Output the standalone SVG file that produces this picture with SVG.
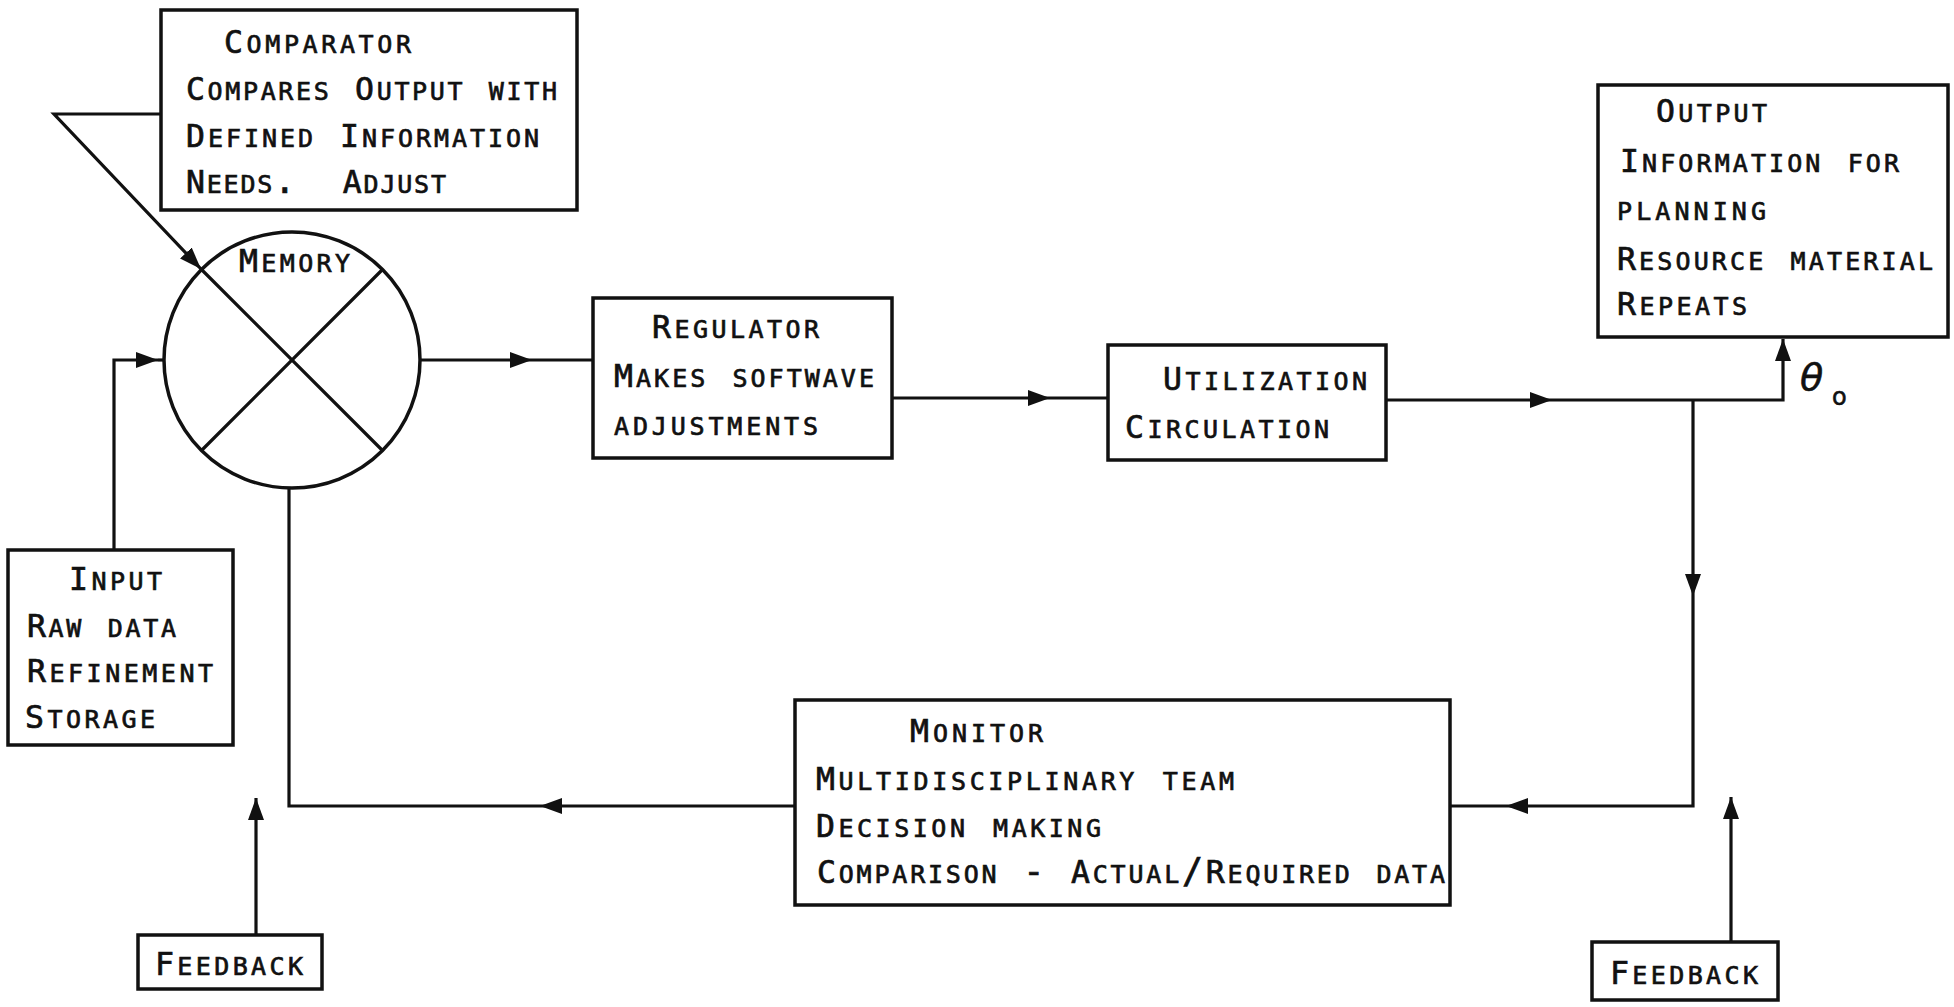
<svg xmlns="http://www.w3.org/2000/svg" width="1954" height="1007" viewBox="0 0 1954 1007">
<style>
.box{fill:#fff;stroke:#111;stroke-width:3.5}
.ln{fill:none;stroke:#111;stroke-width:3.2}
.t{font-family:"DejaVu Sans Mono","Liberation Mono",monospace;font-size:35px;font-variant:small-caps;fill:#111;stroke:#111;stroke-width:0.7}
.c{font-size:31.5px}
.th{font-family:"DejaVu Sans","Liberation Sans",sans-serif;font-style:italic;font-size:38px;fill:#111;stroke:#111;stroke-width:0.6}
</style>
<defs>
<marker id="ah" viewBox="0 0 22 16" refX="22" refY="8" markerWidth="22" markerHeight="16" markerUnits="userSpaceOnUse" orient="auto">
<path d="M0,0 L22,8 L0,16 z" fill="#111"/>
</marker>
</defs>
<rect width="1954" height="1007" fill="#fff"/>
<g id="connectors">
<path class="ln" d="M161,114 H54 L201,269" marker-end="url(#ah)"/>
<path class="ln" d="M114,550 V360 H158" marker-end="url(#ah)"/>
<path class="ln" d="M158,360 H164"/>
<path class="ln" d="M420,360 H532" marker-end="url(#ah)"/>
<path class="ln" d="M532,360 H593"/>
<path class="ln" d="M892,398 H1050" marker-end="url(#ah)"/>
<path class="ln" d="M1050,398 H1108"/>
<path class="ln" d="M1386,400 H1552" marker-end="url(#ah)"/>
<path class="ln" d="M1552,400 H1783 V339" marker-end="url(#ah)"/>
<path class="ln" d="M1693,400 V596" marker-end="url(#ah)"/>
<path class="ln" d="M1693,596 V806 H1506" marker-end="url(#ah)"/>
<path class="ln" d="M1506,806 H1450"/>
<path class="ln" d="M795,806 H540" marker-end="url(#ah)"/>
<path class="ln" d="M540,806 H289 V488"/>
<path class="ln" d="M256,935 V798" marker-end="url(#ah)"/>
<path class="ln" d="M1731,942 V797" marker-end="url(#ah)"/>
</g>
<g id="comparator">
<rect class="box" x="161" y="10" width="416" height="200"/>
<text class="t" x="224" y="53" textLength="187" lengthAdjust="spacing"><tspan class="c">C</tspan>omparator</text>
<text class="t" x="186" y="100" textLength="371" lengthAdjust="spacing"><tspan class="c">C</tspan>ompares <tspan class="c">O</tspan>utput with</text>
<text class="t" x="186" y="147" textLength="353" lengthAdjust="spacing"><tspan class="c">D</tspan>efined <tspan class="c">I</tspan>nformation</text>
<text class="t" x="186" y="193" textLength="260" lengthAdjust="spacing" xml:space="preserve"><tspan class="c">N</tspan>eeds.  <tspan class="c">A</tspan>djust</text>
</g>
<g id="memory">
<circle class="box" cx="292" cy="360" r="128"/>
<path class="ln" d="M201.5,269.5 L382.5,450.5 M382.5,269.5 L201.5,450.5"/>
<text class="t" x="239" y="272" textLength="111" lengthAdjust="spacing"><tspan class="c">M</tspan>emory</text>
</g>
<g id="regulator">
<rect class="box" x="593" y="298" width="299" height="160"/>
<text class="t" x="652" y="338" textLength="167" lengthAdjust="spacing"><tspan class="c">R</tspan>egulator</text>
<text class="t" x="614" y="387" textLength="260" lengthAdjust="spacing"><tspan class="c">M</tspan>akes softwave</text>
<text class="t" x="614" y="435" textLength="204" lengthAdjust="spacing">adjustments</text>
</g>
<g id="utilization">
<rect class="box" x="1108" y="345" width="278" height="115"/>
<text class="t" x="1163" y="390" textLength="204" lengthAdjust="spacing"><tspan class="c">U</tspan>tilization</text>
<text class="t" x="1125" y="438" textLength="204" lengthAdjust="spacing"><tspan class="c">C</tspan>irculation</text>
</g>
<g id="output">
<rect class="box" x="1598" y="85" width="350" height="252"/>
<text class="t" x="1656" y="122" textLength="111" lengthAdjust="spacing"><tspan class="c">O</tspan>utput</text>
<text class="t" x="1620" y="172" textLength="279" lengthAdjust="spacing"><tspan class="c">I</tspan>nformation for</text>
<text class="t" x="1617" y="220" textLength="149" lengthAdjust="spacing">planning</text>
<text class="t" x="1617" y="270" textLength="316" lengthAdjust="spacing"><tspan class="c">R</tspan>esource material</text>
<text class="t" x="1617" y="315" textLength="130" lengthAdjust="spacing"><tspan class="c">R</tspan>epeats</text>
</g>
<g id="theta">
<text class="th" x="1800" y="390">θ<tspan x="1832" y="405" font-size="24" font-style="normal">o</tspan></text>
</g>
<g id="input">
<rect class="box" x="8" y="550" width="225" height="195"/>
<text class="t" x="69" y="590" textLength="93" lengthAdjust="spacing"><tspan class="c">I</tspan>nput</text>
<text class="t" x="27" y="637" textLength="149" lengthAdjust="spacing"><tspan class="c">R</tspan>aw data</text>
<text class="t" x="27" y="682" textLength="186" lengthAdjust="spacing"><tspan class="c">R</tspan>efinement</text>
<text class="t" x="25" y="728" textLength="130" lengthAdjust="spacing"><tspan class="c">S</tspan>torage</text>
</g>
<g id="monitor">
<rect class="box" x="795" y="700" width="655" height="205"/>
<text class="t" x="910" y="742" textLength="133" lengthAdjust="spacing"><tspan class="c">M</tspan>onitor</text>
<text class="t" x="816" y="790" textLength="418" lengthAdjust="spacing"><tspan class="c">M</tspan>ultidisciplinary team</text>
<text class="t" x="816" y="837" textLength="285" lengthAdjust="spacing"><tspan class="c">D</tspan>ecision making</text>
<text class="t" x="817" y="883" textLength="628" lengthAdjust="spacing"><tspan class="c">C</tspan>omparison - <tspan class="c">A</tspan>ctual/<tspan class="c">R</tspan>equired data</text>
</g>
<g id="feedback-left">
<rect class="box" x="138" y="935" width="184" height="54"/>
<text class="t" x="155" y="975" textLength="148" lengthAdjust="spacing"><tspan class="c">F</tspan>eedback</text>
</g>
<g id="feedback-right">
<rect class="box" x="1592" y="942" width="186" height="58"/>
<text class="t" x="1610" y="984" textLength="148" lengthAdjust="spacing"><tspan class="c">F</tspan>eedback</text>
</g>
</svg>
